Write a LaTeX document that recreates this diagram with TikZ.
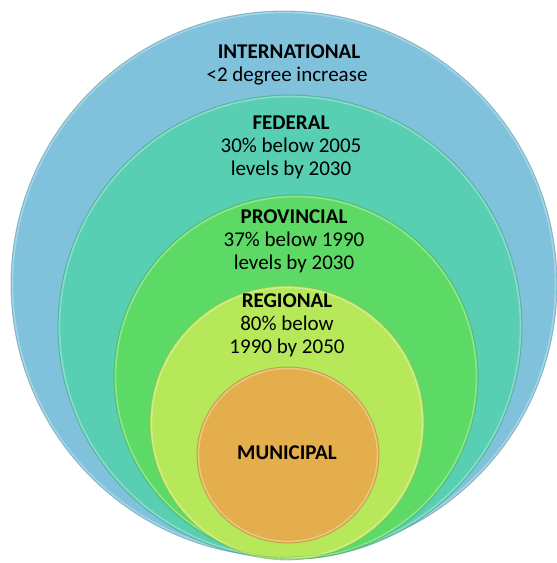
\documentclass[tikz,border=0pt]{standalone}
\usepackage{fontspec}
\setmainfont{Carlito}
\begin{document}
\begin{tikzpicture}[x=1pt,y=1pt,
  disc/.style={fill=#1, draw=#1!80!black, draw opacity=0.35, line width=0.8pt},
  rim/.style={draw=white, draw opacity=0.3, line width=1.6pt},
  level/.style={align=center, font=\fontsize{21}{23}\selectfont, text=black, inner sep=0pt},
  head/.style={level, font=\fontsize{21}{23}\selectfont\bfseries}]
\definecolor{intl}{HTML}{80C2DB}
\definecolor{fed}{HTML}{58CEB2}
\definecolor{prov}{HTML}{5DDA66}
\definecolor{reg}{HTML}{B6E85A}
\definecolor{muni}{HTML}{E3AE4B}
\useasboundingbox (0,0) rectangle (557,563);

% nested discs, all resting near the same bottom point
\fill[disc=intl] (284,279) circle (273);
\draw[rim] (284,279) circle (271.5);
\fill[disc=fed] (290,236) circle (232);
\draw[rim] (290,236) circle (230.5);
\fill[disc=prov] (296,186) circle (182);
\draw[rim] (296,186) circle (180.5);
\fill[disc=reg] (287,140) circle (137);
\draw[rim] (287,140) circle (135.5);
\fill[disc=muni] (288,108) ellipse [x radius=91, y radius=88];
\draw[rim] (288,108) ellipse [x radius=89.5, y radius=86.5];

\draw[disc=intl, fill=none] (284,279) circle (273);
\draw[disc=fed, fill=none] (290,236) circle (232);
\draw[disc=prov, fill=none] (296,186) circle (182);
\draw[disc=reg, fill=none] (287,140) circle (137);
\draw[disc=muni, fill=none] (288,108) ellipse [x radius=91, y radius=88];

% labels
\node[head] (intlH) at (289,511) {INTERNATIONAL};
\node[level] (intlT) at (287,487) {<2 degree increase};
\node[head] (fedH) at (291,440) {FEDERAL};
\node[level] (fedT) at (291,405) {30\% below 2005\\levels by 2030};
\node[head] (provH) at (294,346) {PROVINCIAL};
\node[level] (provT) at (294,311) {37\% below 1990\\levels by 2030};
\node[head] (regH) at (287,262) {REGIONAL};
\node[level] (regT) at (287,227) {80\% below\\1990 by 2050};
\node[head] (muniH) at (287,110) {MUNICIPAL};
\end{tikzpicture}
\end{document}
